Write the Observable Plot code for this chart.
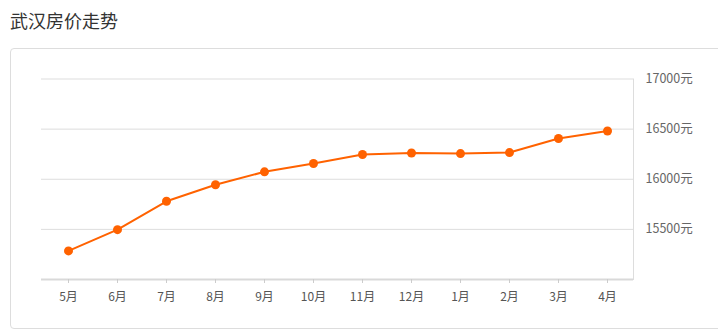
<!DOCTYPE html>
<html>
<head>
<meta charset="utf-8">
<script src="https://cdn.jsdelivr.net/npm/d3@7"></script>
<script src="https://cdn.jsdelivr.net/npm/@observablehq/plot@0.6"></script>
<style>
  html, body { margin: 0; padding: 0; background: #fff; overflow: hidden; }
  #wrap { position: relative; width: 718px; height: 330px; overflow: hidden; font-family: "Noto Sans CJK SC", "Noto Sans", sans-serif; }
  #title { position: absolute; left: 10px; top: 9px; font-size: 18px; line-height: 22px; color: #333; }
  #box { position: absolute; left: 10px; top: 48px; width: 730px; height: 281px; border: 1px solid #ddd; border-radius: 4px; box-sizing: border-box; }
  #chart { position: absolute; left: 0; top: 0; }
</style>
</head>
<body>
<div id="wrap">
  <div id="title">武汉房价走势</div>
  <div id="box"></div>
  <div id="chart"></div>
</div>
<script>
const months = ["5月","6月","7月","8月","9月","10月","11月","12月","1月","2月","3月","4月"];
const prices = [15285, 15497, 15780, 15945, 16074, 16157, 16247, 16262, 16256, 16266, 16406, 16481];
const yTicks = [15500, 16000, 16500, 17000];
const unit = "元";

const data = months.map((m, i) => ({month: m, price: prices[i]}));
const orange = "#ff6200";

const chart = Plot.plot({
  width: 718,
  height: 330,
  marginLeft: 41,
  marginRight: 85,
  marginTop: 78.5,
  marginBottom: 51,
  style: {background: "transparent", fontFamily: "'Noto Sans CJK SC', 'Noto Sans', sans-serif"},
  x: {type: "point", domain: months, padding: 0.5, align: 0.5},
  y: {domain: [15000, 17000]},
  marks: [
    Plot.gridY(yTicks, {stroke: "#ddd", strokeOpacity: 1}),
    Plot.frame({anchor: "right", stroke: "#ddd"}),
    Plot.ruleY([15000], {stroke: "#d9d9d9", strokeWidth: 2}),
    Plot.axisY(yTicks, {anchor: "right", tickSize: 0, tickPadding: 12, tickFormat: d => d + unit, fontSize: 12.5, fill: "#666", label: null}),
    Plot.axisX({tickSize: 4, tickPadding: 9, stroke: "#ccc", fontSize: 12, fill: "#555", label: null}),
    Plot.line(data, {x: "month", y: "price", stroke: orange, strokeWidth: 2}),
    Plot.dot(data, {x: "month", y: "price", r: 4.5, fill: orange, stroke: "none"})
  ]
});
document.getElementById("chart").appendChild(chart);
</script>
</body>
</html>
